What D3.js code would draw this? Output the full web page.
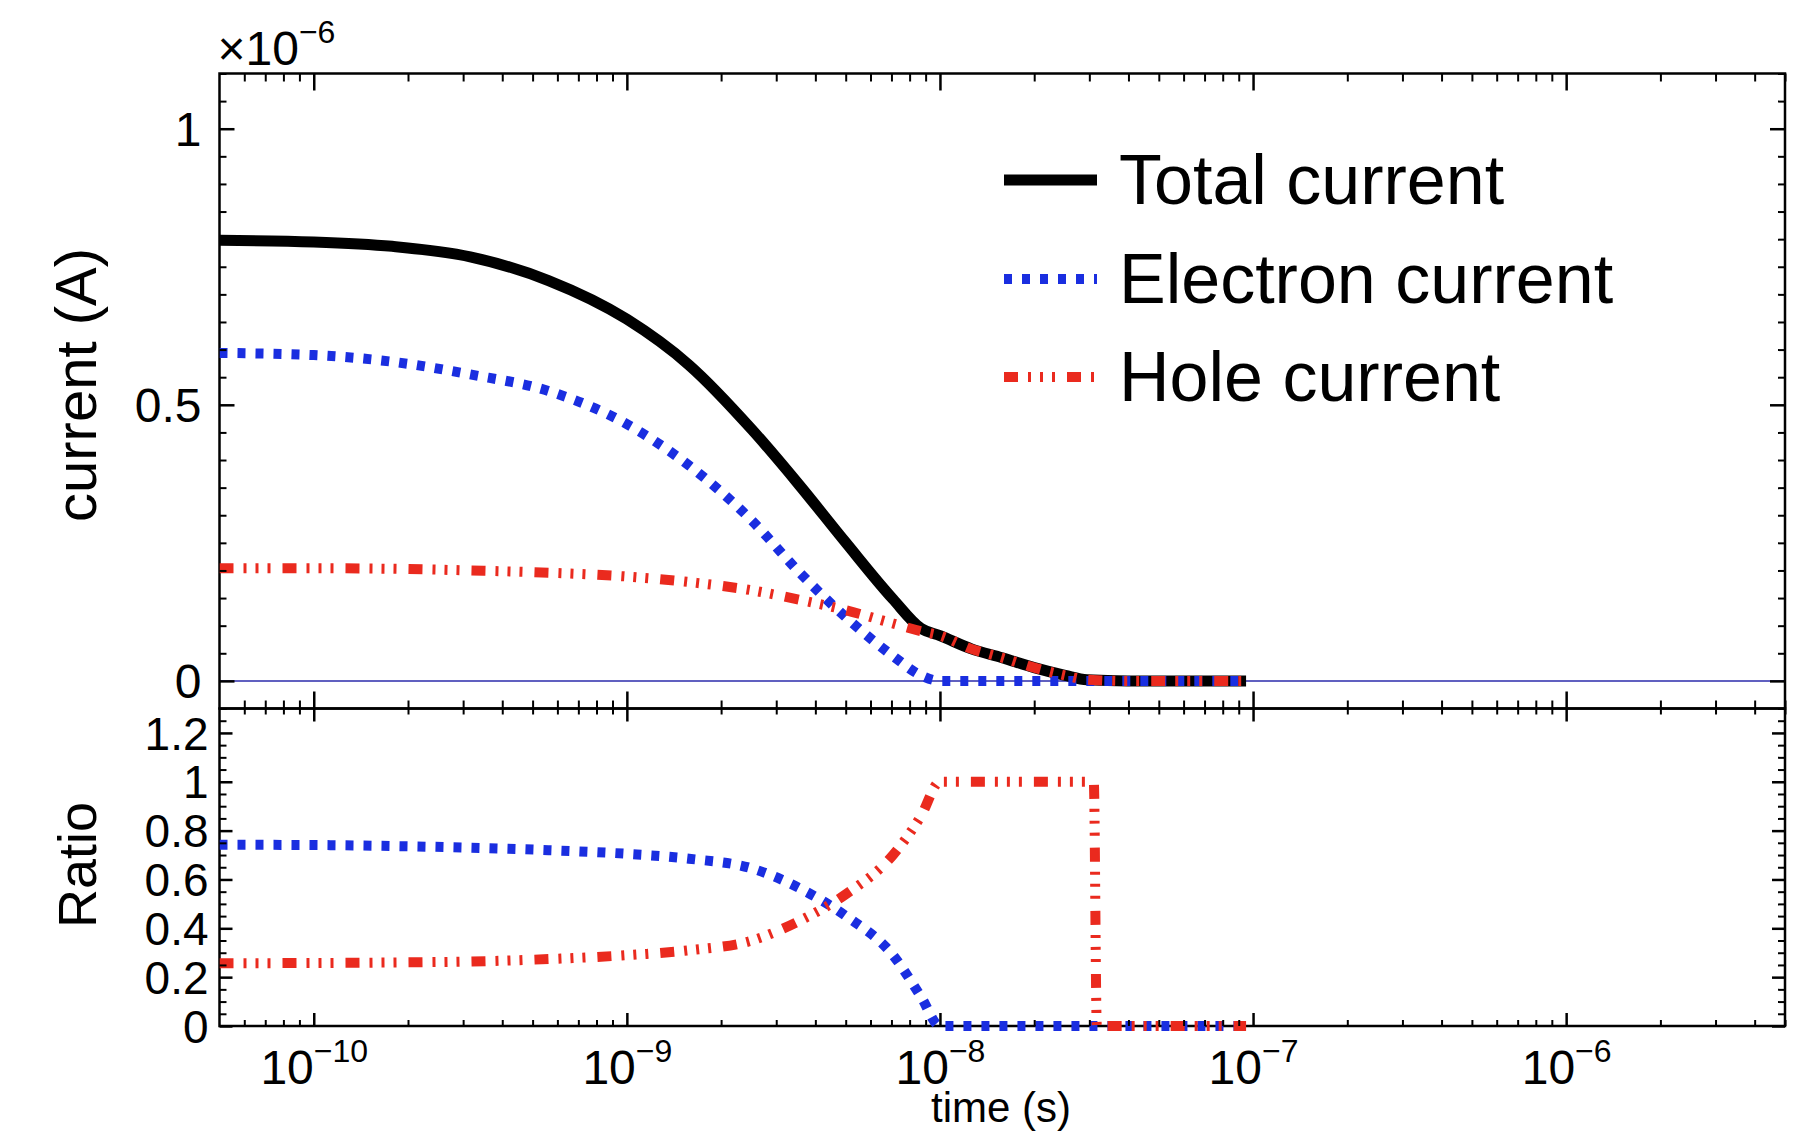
<!DOCTYPE html>
<html>
<head>
<meta charset="utf-8">
<script src="https://cdn.jsdelivr.net/npm/d3@7"></script>
<style>
  body { margin: 0; background: #fff; }
  svg { display: block; font-family: "Liberation Sans", Arial, Helvetica, sans-serif; }
</style>
</head>
<body>
<svg id="chart" width="1803" height="1134"></svg>
<script>
// upper panel: currents in units of 1e-6 A
const time = [5e-11, 1e-10, 1.78e-10, 3.16e-10, 5.62e-10, 1e-9, 1.58e-9, 2.51e-9, 3.55e-9, 5.01e-9,
  7.08e-9, 8.7e-9, 1e-8, 1.26e-8, 1.58e-8, 2e-8, 2.51e-8, 2.95e-8, 3.98e-8, 6.31e-8, 9.5e-8];
const totalCurrent = [0.798, 0.795, 0.787, 0.768, 0.725, 0.655, 0.572, 0.455, 0.355, 0.25,
  0.148, 0.095, 0.082, 0.058, 0.042, 0.024, 0.01, 0.002, 0, 0, 0];
const electronCurrent = [0.594, 0.59, 0.578, 0.555, 0.525, 0.465, 0.39, 0.29, 0.197, 0.115,
  0.045, 0.01, 0, 0, 0, 0, 0, 0, 0, 0, 0];
const holeCurrent = [0.204, 0.204, 0.203, 0.2, 0.196, 0.189, 0.179, 0.164, 0.147, 0.128,
  0.104, 0.09, 0.082, 0.058, 0.042, 0.024, 0.01, 0.002, 0, 0, 0];

// lower panel: ratios
const ratioTime = [5e-11, 1e-10, 1.78e-10, 3.16e-10, 5.62e-10, 1e-9, 1.58e-9, 2.51e-9, 3.55e-9, 5.01e-9,
  7.08e-9, 8.7e-9, 1e-8, 2e-8, 3.1e-8, 3.17e-8, 6.31e-8, 9.5e-8];
const electronRatio = [0.742, 0.741, 0.737, 0.73, 0.72, 0.705, 0.685, 0.645, 0.565, 0.45,
  0.29, 0.12, 0, 0, 0, 0, 0, 0];
const holeRatio = [0.257, 0.258, 0.26, 0.264, 0.274, 0.29, 0.31, 0.35, 0.43, 0.54,
  0.7, 0.86, 1, 1, 1, 0, 0, 0];

const currentTicks = [0, 0.5, 1];
const ratioTicks = [0, 0.2, 0.4, 0.6, 0.8, 1, 1.2];
const timeTicks = [1e-10, 1e-9, 1e-8, 1e-7, 1e-6];
const legendLabels = ["Total current", "Electron current", "Hole current"];

const styles = {
  total: { color: "#000", dash: null, width: 11 },
  electron: { color: "#1a2ee0", dash: "8,10", width: 10 },
  hole: { color: "#ea2a1e", dash: "14,10,3,9,3,9,3,12", width: 10 }
};

const plotLeft = 219.5, plotRight = 1785, plotTop = 73.5, plotMid = 708.5, plotBottom = 1026;
const svg = d3.select("#chart");

const x = d3.scaleLog().domain([5e-11, 5e-6]).range([plotLeft, plotRight]);
const yTop = d3.scaleLinear().domain([-0.05, 1.1]).range([plotMid, plotTop]);
const yBot = d3.scaleLinear().domain([0, 1.3]).range([plotBottom, plotMid]);

const minorX = [];
for (let k = -11; k <= -6; k++) {
  for (let m = 2; m <= 9; m++) {
    const v = m * Math.pow(10, k);
    if (v > 5e-11 && v < 5e-6) minorX.push(v);
  }
}
const minorTop = d3.range(-0.05, 1.1001, 0.05).map((d) => +d.toFixed(2)).filter((d) => !currentTicks.includes(d));
const minorBot = d3.range(0, 1.3001, 0.05).map((d) => +d.toFixed(2)).filter((d) => !ratioTicks.includes(d));

function ticks(axis, values, size, tx, ty) {
  const g = svg.append("g")
    .attr("transform", `translate(${tx},${ty})`)
    .call(axis.tickValues(values).tickSize(size).tickSizeOuter(0).tickFormat(""));
  g.select(".domain").remove();
  g.selectAll(".tick text").remove();
  g.selectAll(".tick line").attr("stroke", "#000").attr("stroke-width", size < -10 ? 2.5 : 2);
  return g;
}

// clip paths (lower one reaches a little below the axis so the zero run shows whole)
const defs = svg.append("defs");
defs.append("clipPath").attr("id", "clipTop").append("rect")
  .attr("x", plotLeft).attr("y", plotTop).attr("width", plotRight - plotLeft).attr("height", plotMid - plotTop);
defs.append("clipPath").attr("id", "clipBot").append("rect")
  .attr("x", plotLeft).attr("y", plotMid).attr("width", plotRight - plotLeft).attr("height", plotBottom - plotMid + 6);

// zero line of the current panel
svg.append("line")
  .attr("x1", plotLeft).attr("x2", plotRight)
  .attr("y1", yTop(0)).attr("y2", yTop(0))
  .attr("stroke", "#6060c0").attr("stroke-width", 2);

function drawSeries(ts, vs, y, style, clip) {
  const line = d3.line().x((d) => x(d[0])).y((d) => y(d[1])).curve(d3.curveMonotoneX);
  svg.append("path")
    .datum(ts.map((t, i) => [t, vs[i]]))
    .attr("clip-path", `url(#${clip})`)
    .attr("fill", "none")
    .attr("stroke", style.color)
    .attr("stroke-width", style.width)
    .attr("stroke-dasharray", style.dash)
    .attr("d", line);
}

// frames
svg.append("rect").attr("x", plotLeft).attr("y", plotTop).attr("width", plotRight - plotLeft).attr("height", plotMid - plotTop)
  .attr("fill", "none").attr("stroke", "#000").attr("stroke-width", 2.5);
svg.append("rect").attr("x", plotLeft).attr("y", plotMid).attr("width", plotRight - plotLeft).attr("height", plotBottom - plotMid)
  .attr("fill", "none").attr("stroke", "#000").attr("stroke-width", 2.5);

drawSeries(time, totalCurrent, yTop, styles.total, "clipTop");
drawSeries(time, electronCurrent, yTop, styles.electron, "clipTop");
drawSeries(time, holeCurrent, yTop, styles.hole, "clipTop");
drawSeries(ratioTime, electronRatio, yBot, styles.electron, "clipBot");
drawSeries(ratioTime, holeRatio, yBot, styles.hole, "clipBot");

// ticks, all pointing inward
ticks(d3.axisTop(x), timeTicks, -17, 0, plotTop);
ticks(d3.axisTop(x), minorX, -8, 0, plotTop);
ticks(d3.axisBottom(x), timeTicks, -17, 0, plotMid);
ticks(d3.axisBottom(x), minorX, -8, 0, plotMid);
ticks(d3.axisTop(x), timeTicks, -13, 0, plotMid);
ticks(d3.axisTop(x), minorX, -6, 0, plotMid);
const xBottom = ticks(d3.axisBottom(x), timeTicks, -13, 0, plotBottom);
ticks(d3.axisBottom(x), minorX, -6, 0, plotBottom);

const yTopAxis = ticks(d3.axisLeft(yTop), currentTicks, -15, plotLeft, 0);
ticks(d3.axisLeft(yTop), minorTop, -7, plotLeft, 0);
ticks(d3.axisRight(yTop), currentTicks, -15, plotRight, 0);
ticks(d3.axisRight(yTop), minorTop, -7, plotRight, 0);
const yBotAxis = ticks(d3.axisLeft(yBot), ratioTicks, -13, plotLeft, 0);
ticks(d3.axisLeft(yBot), minorBot, -7, plotLeft, 0);
ticks(d3.axisRight(yBot), ratioTicks, -13, plotRight, 0);
ticks(d3.axisRight(yBot), minorBot, -7, plotRight, 0);

// tick labels
yTopAxis.selectAll(".tick").append("text")
  .attr("x", -18).attr("dy", "0.35em")
  .attr("text-anchor", "end").attr("font-size", 48).attr("fill", "#000")
  .text((d) => String(d));
yBotAxis.selectAll(".tick").append("text")
  .attr("x", -11).attr("dy", "0.35em")
  .attr("text-anchor", "end").attr("font-size", 46).attr("fill", "#000")
  .text((d) => String(+d.toFixed(1)));
xBottom.selectAll(".tick").append("text")
  .attr("y", 58).attr("text-anchor", "middle").attr("font-size", 48).attr("fill", "#000")
  .each(function (d) {
    const t = d3.select(this);
    t.append("tspan").text("10");
    t.append("tspan").attr("dy", -22).attr("font-size", 32)
      .text("\u2212" + Math.round(-Math.log10(d)));
  });

// multiplier
const mult = svg.append("text").attr("x", plotLeft - 2).attr("y", 65).attr("font-size", 48);
mult.append("tspan").text("\u00d710");
mult.append("tspan").attr("dy", -22).attr("font-size", 32).text("\u22126");

// axis titles
svg.append("text").attr("transform", "translate(96,385) rotate(-90)")
  .attr("text-anchor", "middle").attr("font-size", 58).text("current (A)");
svg.append("text").attr("transform", "translate(96,865) rotate(-90)")
  .attr("text-anchor", "middle").attr("font-size", 54).text("Ratio");
svg.append("text").attr("x", 1001).attr("y", 1122)
  .attr("text-anchor", "middle").attr("font-size", 42).text("time (s)");

// legend
const legendStyles = [styles.total, styles.electron, styles.hole];
const legendY = [180, 279, 377];
legendLabels.forEach((label, i) => {
  const s = legendStyles[i];
  svg.append("line")
    .attr("x1", 1004).attr("x2", 1097).attr("y1", legendY[i]).attr("y2", legendY[i])
    .attr("stroke", s.color).attr("stroke-width", s.width)
    .attr("stroke-dasharray", s.dash);
  svg.append("text").attr("x", 1119).attr("y", legendY[i] + 24)
    .attr("font-size", 70).text(label);
});
</script>
</body>
</html>
